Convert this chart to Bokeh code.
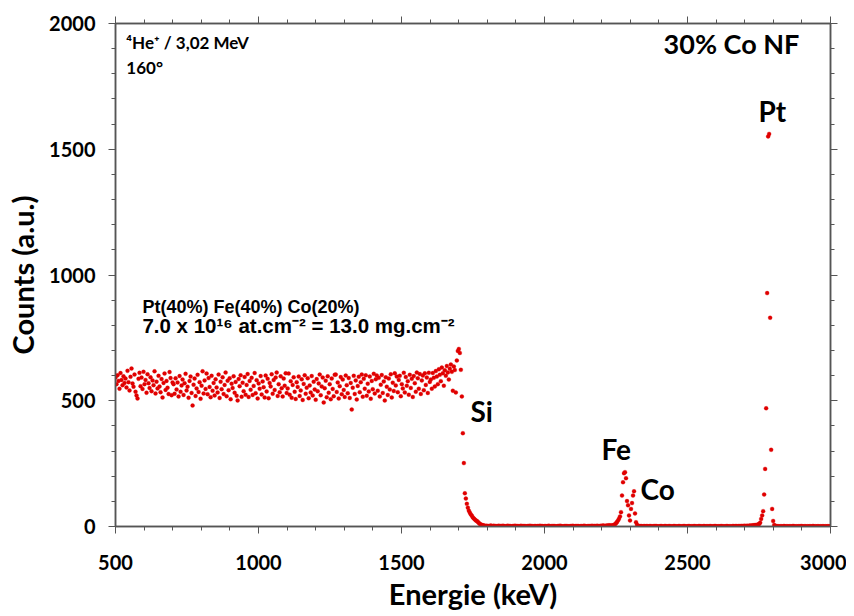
import numpy as np
from bokeh.plotting import figure
from bokeh.models import LinearAxis, Label, Range1d, FixedTicker, ColumnDataSource
from bokeh.embed import file_html
from bokeh.resources import INLINE

# ---- data (counts per channel) ----
energy_start_keV = 500.0
channel_width_keV = 3.5

plateau_500_700 = [592, 566, 601, 579, 548, 610, 583, 562, 597, 571,
                   588, 553, 619, 574, 541, 595, 628, 569, 556, 604,
                   536, 521, 509, 587, 611, 558, 592, 547, 615, 566,
                   583, 532, 605, 570, 551, 593, 538, 581, 562, 617,
                   529, 576, 549, 599, 557, 534, 586, 513, 571, 608,
                   543, 579, 552, 527, 614, 590, 522, 573]
plateau_700_1100 = [566, 528, 589, 545, 573, 517, 598, 536, 561, 584,
                    523, 570, 607, 541, 556, 512, 579, 596, 531, 481,
                    564, 588, 519, 549, 603, 535, 574, 508, 560, 617,
                    529, 581, 547, 608, 526, 590, 555, 514, 599, 540,
                    571, 521, 585, 553, 533, 604, 511, 576, 546, 593,
                    527, 563, 612, 518, 580, 542, 589, 506, 568, 551,
                    597, 532, 575, 520, 501, 586, 558, 601, 516, 572,
                    538, 594, 524, 563, 606, 515, 579, 544, 591, 523,
                    559, 610, 530, 582, 509, 569, 548, 598, 525, 577,
                    554, 513, 600, 537, 587, 510, 571, 557, 605, 528,
                    583, 543, 592, 612, 519, 566, 534, 597, 550, 517,
                    588, 560, 609, 531]
plateau_1100_1600 = [549, 608, 524, 578, 512, 563, 593, 536, 507, 574,
                     555, 596, 519, 541, 585, 503, 567, 601, 528, 552,
                     589, 510, 561, 533, 598, 521, 576, 545, 504, 586,
                     538, 569, 604, 522, 557, 592, 493, 550, 580, 514,
                     597, 532, 566, 506, 588, 547, 518, 603, 604, 535,
                     573, 509, 558, 594, 526, 584, 543, 515, 600, 562,
                     530, 590, 511, 571, 465, 552, 599, 527, 581, 505,
                     559, 595, 534, 574, 604, 516, 587, 548, 601, 520,
                     568, 537, 596, 508, 579, 546, 607, 529, 585, 600,
                     540, 591, 517, 564, 602, 531, 577, 501, 593, 556,
                     523, 588, 545, 605, 513, 572, 539, 609, 561, 596,
                     534, 583, 599, 518, 566, 549, 611, 533, 594, 560,
                     578, 524, 603, 551, 587, 515, 598, 570, 536, 612,
                     589, 548, 606, 527, 581, 600, 542, 609, 563, 592,
                     531, 611, 575]
plateau_1600_1690 = [584, 548, 610, 591, 557, 618, 596, 566, 625, 603,
                     578, 632, 609, 560, 621, 599, 638, 612, 584, 627,
                     644, 615, 540, 636, 622]
si_edge = [533, 660, 698, 706, 690, 623, 517, 371, 252, 132,
           111, 90, 75, 63, 55, 48, 43, 36, 32, 28,
           24, 22, 18, 14, 10, 8, 6, 5, 4]
baseline_1790_2240 = [3, 2, 3, 1, 2, 2, 4, 1, 2, 3, 1, 2, 0, 2, 3, 1,
                      2, 1, 3, 2, 0, 1, 2, 3, 1, 2, 1, 0, 2, 1, 3, 2,
                      1, 2, 0, 1, 3, 1, 2, 1, 2, 0, 1, 2, 1, 3, 1, 2,
                      0, 1, 2, 1, 1, 2, 0, 3, 1, 2, 1, 0, 2, 1, 1, 2,
                      3, 1, 0, 2, 1, 2, 1, 1, 0, 2, 1, 3, 2, 1, 0, 1,
                      2, 1, 2, 0, 1, 1, 2, 1, 3, 0, 1, 2, 1, 2, 1, 0,
                      2, 1, 1, 3, 2, 1, 0, 2, 1, 2, 1, 3, 1, 2, 2, 1,
                      3, 2, 1, 2, 3, 2, 4, 3, 2, 3, 4, 3, 5, 4, 3, 5]
fe_co_peaks = [4, 6, 9, 13, 18, 24, 31, 40, 57, 123, 176, 212, 216, 192,
               101, 84, 44, 24, 70, 93, 123, 140, 52, 17, 7, 3]
baseline_2330_2750 = [2, 1, 2, 1, 0, 2, 1, 1, 2, 0, 1, 2, 1, 1, 0, 2,
                      1, 2, 1, 0, 1, 1, 2, 1, 0, 1, 2, 1, 1, 0, 2, 1,
                      1, 0, 1, 2, 1, 1, 0, 1, 2, 1, 0, 1, 1, 2, 1, 0,
                      1, 1, 2, 0, 1, 1, 0, 2, 1, 1, 0, 1, 2, 1, 1, 0,
                      1, 2, 0, 1, 1, 1, 0, 2, 1, 0, 1, 1, 2, 1, 0, 1,
                      1, 0, 2, 1, 1, 0, 1, 1, 2, 0, 1, 1, 0, 1, 2, 1,
                      1, 2, 1, 1, 2, 1, 2, 2, 1, 3, 2, 2, 3, 2, 3, 4,
                      3, 4, 5, 4, 6, 5, 7, 8]
pt_peak = [10, 15, 30, 44, 61, 127, 229, 470, 928, 1551, 1561, 830, 305, 70, 22, 6]
baseline_2800_3000 = [3, 2, 1, 1, 0, 1, 1, 0, 1, 2, 0, 1, 1, 0, 1, 1,
                      0, 1, 2, 1, 0, 1, 0, 1, 1, 0, 2, 1, 0, 1, 1, 0,
                      1, 0, 1, 1, 0, 1, 2, 0, 1, 0, 1, 1, 0, 1, 0, 1,
                      1, 0, 1, 0, 1, 1, 0, 1]

x_major_ticks = [500, 1000, 1500, 2000, 2500, 3000]
x_minor_ticks = list(range(500, 3001, 100))
y_major_ticks = [0, 500, 1000, 1500, 2000]
y_minor_ticks = list(range(0, 2001, 100))

counts = (plateau_500_700 + plateau_700_1100 + plateau_1100_1600 + plateau_1600_1690
          + si_edge + baseline_1790_2240 + fe_co_peaks + baseline_2330_2750
          + pt_peak + baseline_2800_3000)
energy = energy_start_keV + channel_width_keV * np.arange(len(counts))

src = ColumnDataSource(dict(energy=energy, counts=counts))

p = figure(width=846, height=616, x_range=Range1d(500, 3000), y_range=Range1d(0, 2000),
           output_backend="svg", toolbar_location=None,
           x_axis_location=None, y_axis_location=None,
           min_border_left=115, min_border_right=16, min_border_top=23, min_border_bottom=90)
p.grid.visible = False
p.outline_line_color = "#555555"
p.outline_line_width = 1.5
p.background_fill_color = "white"
p.border_fill_color = "white"

AX_COL = "#555555"

def style_axis(ax, major, minor, show_labels):
    ax.ticker = FixedTicker(ticks=major, minor_ticks=minor)
    ax.axis_line_color = AX_COL
    ax.axis_line_width = 1.5
    ax.major_tick_line_color = AX_COL
    ax.minor_tick_line_color = AX_COL
    ax.major_tick_out = 7
    ax.major_tick_in = 0
    ax.minor_tick_out = 4
    ax.minor_tick_in = 0
    if show_labels:
        ax.major_label_text_font = "Lato"
        ax.major_label_text_font_style = "bold"
        ax.major_label_text_font_size = "20px"
        ax.major_label_text_color = "black"
        ax.axis_label_text_font = "Lato"
        ax.axis_label_text_font_style = "bold"
        ax.axis_label_text_font_size = "29px"
        ax.axis_label_text_color = "black"
    else:
        ax.major_label_text_font_size = "0px"
        ax.major_label_standoff = 0

xb = LinearAxis(axis_label="Energie (keV)")
style_axis(xb, x_major_ticks, x_minor_ticks, True)
xb.major_label_standoff = 21
xb.axis_label_standoff = 3
p.add_layout(xb, "below")

yl = LinearAxis(axis_label="Counts (a.u.)")
style_axis(yl, y_major_ticks, y_minor_ticks, True)
yl.major_label_standoff = 13
yl.axis_label_standoff = 6
p.add_layout(yl, "left")

xt = LinearAxis()
style_axis(xt, x_major_ticks, x_minor_ticks, False)
p.add_layout(xt, "above")

yr = LinearAxis()
style_axis(yr, y_major_ticks, y_minor_ticks, False)
p.add_layout(yr, "right")

p.scatter(x="energy", y="counts", source=src, size=4, fill_color="#e00000",
          line_color="#e00000", line_width=0.3)

def add_label(x, y, text, size, font="Lato", align="left"):
    p.add_layout(Label(x=x, y=y, text=text, text_font=font, text_font_style="bold",
                       text_font_size=size, text_color="black", text_align=align,
                       text_baseline="alphabetic"))

add_label(538, 1924, "\u2074He\u207a / 3,02 MeV", "17px")
add_label(538, 1825, "160\u00b0", "17px")
add_label(2891, 1921, "30% Co NF", "27px", align="right")
add_label(2748, 1654, "Pt", "28px")
add_label(1741, 461, "Si", "28px")
add_label(2199, 310, "Fe", "28px")
add_label(2336, 151, "Co", "28px")
add_label(594, 871, "Pt(40%) Fe(40%) Co(20%)", "18px", font="Liberation Sans")
add_label(594, 799, "7.0 x 10\u00b9\u2076 at.cm\u207b\u00b2 = 13.0 mg.cm\u207b\u00b2", "20.5px",
          font="Liberation Sans")

open("out.html", "w").write(file_html(p, INLINE))
